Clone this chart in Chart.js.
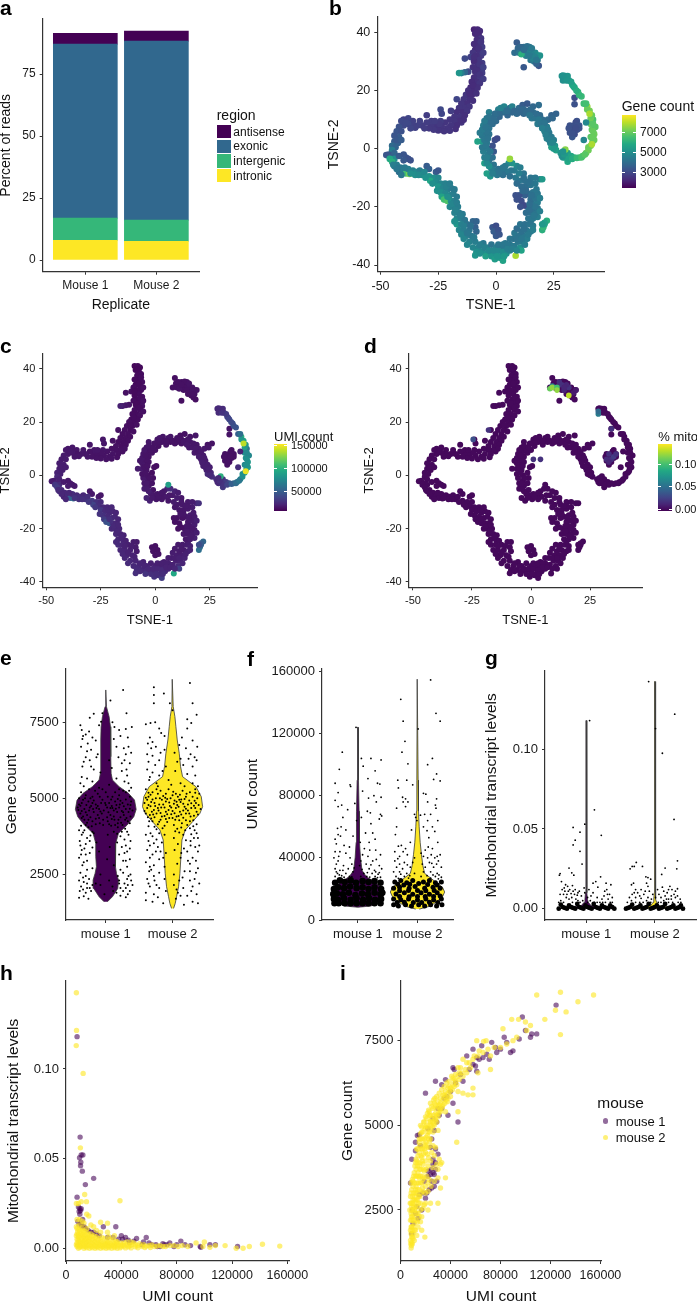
<!DOCTYPE html>
<html>
<head>
<meta charset="utf-8">
<title>Single cell QC panels</title>
<script src="https://cdn.jsdelivr.net/npm/chart.js@4"></script>
<style>
  html, body { margin: 0; padding: 0; background: #fff; }
  #page { position: relative; width: 697px; height: 1302px; overflow: hidden; font-family: "Liberation Sans", Arial, sans-serif; color: #111; }
  #page canvas { position: absolute; }
  .txt { position: absolute; white-space: nowrap; line-height: 1; }
  .letter { font-weight: bold; font-size: 21px; color: #000; }
  .box { position: absolute; }
</style>
</head>
<body>
<div id="page"></div>
<script>
// ---- panel a
const replicates = ['Mouse 1', 'Mouse 2'];
const regions = ['antisense', 'exonic', 'intergenic', 'intronic'];
const intronicPct = [7.9, 7.5];
const intergenicPct = [9.0, 8.6];
const exonicPct = [70.2, 72.2];
const antisensePct = [4.3, 4.0];
const regionColors = ['#440154', '#31688E', '#35B779', '#FDE725'];

// ---- panels b, c, d: [tsne1, tsne2, gene count, UMI count in thousands]
const tsneCells = [
[-9.5,41,2100,9],[-8,41,2200,10],[-7,40.5,2300,10],[-9,39.5,2200,9],[-7.5,39,2300,10],[-6.5,38,2500,11],[-8.3,37.5,2300,10],[-6.8,36,2500,11],[-8,35.5,2400,10],[-6,35,2700,12],[-9,34,2300,10],[-7,33.5,2500,11],[-10,33,2500,11],[-6.5,32,2600,11],[-8.5,32,2400,10],[-11,31.5,2800,12],[-13.5,31,3000,13],[-7.5,30.5,2500,11],[-9.5,30,2300,10],[-6,29.5,2700,12],[-8,28.5,2400,10],[-10,28,2400,11],[-6,27.5,2600,12],[-7.5,27,2400,11],[-9,26.5,2400,10],[-12,26.5,3000,14],[-13.5,26.3,3800,15],[-15,26,4500,17],[-16,26,5200,19],[-6,26,2700,14],[-8,25.5,2500,11],[-9.5,24.5,2400,11],[-7,24.5,2600,12],[-8.5,23,2400,11],[-10.5,23,2300,11],[-9,21.5,2400,11],[-11,21,2300,11],[-9.5,20,2300,11],[-12,20,2400,12],[-10.5,18.5,2300,11],[-13,18.5,2500,12],[-11.5,17,2400,11],[-14,17,2500,12],[-17,17,2900,13],[-12.5,15.5,2400,12],[-15,15.5,2500,12],[-13.5,14,2500,12],[-16,14,2500,12],[-14.5,12.5,2400,12],[-17,12.5,2400,12],[-15.5,11,2500,12],[-18,11,2500,13],[-19.5,13,2700,13],
[-8,40,2200,9],[-6.5,36.8,2500,11],[-9.5,36,2300,10],[-7.5,34.5,2400,10],[-5.5,33,2700,12],[-9.5,31.5,2400,10],[-7,29,2500,11],[-5.5,28,2800,13],[-8.5,27,2400,10],[-7,25.5,2500,11],[-5.5,24,2700,13],[-7,22.5,2500,12],[-8,21,2400,11],[-10,21.8,2300,11],[-8.5,19,2400,12],[-11.5,19,2300,11],[-10,16.5,2400,12],[-11.5,14.5,2500,12],[-12.5,13,2500,12],[-13.5,11.5,2400,12],[-15,9,2500,13],[-14,10,2400,13],
[-16,9.5,2400,13],[-18,9.5,2500,13],[-20,10,2500,13],[-17,8,2400,13],[-19.5,8,2500,14],[-22,9,2500,14],[-24,9.5,2700,15],[-24,13.5,3000,15],[-23.5,12,2900,15],[-21,7,2500,14],[-23.5,7.5,2500,14],[-26,8,2500,14],[-28,8,2600,14],[-30,11.5,2700,15],[-28,9.5,2700,15],[-30,9,2700,14],[-32,8,2700,15],[-34,8,2800,15],[-36,9.5,2800,15],[-38,10.5,2900,15],[-40,10,2800,15],[-36,8,2800,14],[-38,8.5,3000,16],[-40,8,3000,16],[-42,7.5,3200,17],[-41,9.5,3000,16],[-43,6,3300,17],[-42,4,3500,18],[-44,4.5,3300,18],[-44,2.5,3500,18],[-42.5,2,3600,19],[-45,1,3900,20],[-43.5,0.5,3700,19],[-45,-0.5,4500,22],[-44,-1.5,3800,20],[-46.5,-2,3400,18],[-47.5,-2.2,3300,17],[-45.5,-3,3700,20],[-44,-3.5,5000,25],[-42,-2.5,3500,17],[-40,-2,3300,16],[-39,-3,3300,16],[-38,-3.5,3200,16],[-40,-4,3400,17],[-37,-4,3200,16],
[-17.5,6.8,2400,13],[-20,6.2,2500,14],[-22.5,6,2500,14],[-25,6.3,2500,14],[-27,6.5,2600,14],[-24.5,8.5,2600,14],[-26.5,9.5,2700,15],[-29,7,2600,14],[-31,7,2700,15],[-33,9.5,2800,15],[-35,7.2,2800,15],[-37,7,2900,15],[-39,9,3000,16],[-41,6,3200,17],[-43,3,3400,18],[-41,3,3500,18],
[-46,-3.5,5800,30],[-45,-4.5,6000,32],[-43,-5.5,4500,23],[-44,-6,4300,24],[-41.5,-6.5,4300,22],[-42,-8,4000,20],[-40,-7.5,4500,24],[-39,-8.5,6500,50],[-37.5,-8.7,7300,60],[-38,-7,4500,25],[-36,-7.5,4600,24],[-34.5,-8,4800,26],[-33,-7.5,4500,22],[-35,-9,5000,26],[-32,-9,5000,28],[-30,-6,3500,15],[-29,-7,3600,16],[-26,-8,3500,17],[-25,-7.5,3300,15],[-29,-9.5,5200,32],[-27,-10,5000,27],[-28.5,-11,5800,36],[-25,-10,4800,24],[-26,-11.5,4900,26],[-24,-12,4700,23],[-22,-12,4600,22],[-25,-13,5200,30],[-23,-13.5,4700,24],[-21,-14,4600,23],[-19.5,-13.5,4400,22],[-24,-15,5000,27],[-22,-15.5,4800,24],[-20,-16,4700,24],[-18.5,-15.5,4500,23],[-23.5,-16.5,5600,32],[-22.5,-17.5,6500,42],[-21,-18,6700,45],[-19.5,-18,5000,26],[-18,-18,4600,22],[-20,-20,4800,23],[-18.5,-20,4600,23],[-16.5,-20,4500,22],[-18,-22,4600,23],[-16,-22,4500,21],[-17,-24,4700,22],[-15,-24,4500,21],[-13.5,-24.5,4300,20],[-17,-26,5300,24],[-15,-26,4600,21],[-12.5,-26,4200,19],[-10,-25,3800,17],[-8.5,-25,3700,17],[-9,-27,3600,17],[-16,-28,4700,22],[-14,-28,4500,21],[-11.5,-28,4200,19],[-8.5,-28.5,3800,17],[-13,-30,4500,21],[-10.5,-30,4300,20],[-14,-31,4700,22],[-11.5,-32,4600,22],[-9,-32,4500,21],
[-44.5,-5.5,4500,24],[-43,-7,4300,22],[-41,-9,4300,22],[-39.5,-6.5,4400,22],[-37,-8.5,5000,28],[-33.5,-9,4900,26],[-31,-8,4800,25],[-30.5,-10,5100,30],[-27.5,-12,5000,30],[-25.5,-14.5,5000,28],[-21.5,-13,4600,23],[-20,-12,4500,22],[-18,-14,4400,21],[-17,-16.5,4400,21],[-21,-16.5,5000,26],[-19,-19,4700,23],[-17,-18.5,4500,22],[-17.5,-21,4600,22],[-14.5,-22.5,4400,20],[-15.5,-23,4500,21],[-18,-25,5000,23],[-14,-26.5,4500,20],[-11,-26.5,4100,18],[-15,-29.5,4700,22],[-12.5,-29,4300,20],[-12.5,-33,4700,24],[-9.5,-30.5,4400,20],
[-10,-34,4700,23],[-7.5,-34,4700,23],[-5.5,-32.5,4300,20],[-8.5,-35.5,5000,24],[-6,-35.5,4900,23],[-4,-34,4600,21],[-2,-33,4200,19],[-1.5,-27,3300,13],[0,-26.5,3100,13],[-1,-28.5,3500,14],[1,-28,3200,13],[0,-30,3400,14],[1.5,-29.5,3300,14],[-4,-36,5000,24],[-2,-35.5,4800,22],[-9,-36.7,5200,26],[-4.5,-37,5500,28],[-2,-37,5200,26],[0,-36,5100,24],[2,-35,4800,22],[0,-34,4500,20],[2,-33.5,4300,19],[4,-34,4400,20],[-0.5,-38,5400,27],[1.5,-37.5,5300,26],[3,-38.5,5600,32],[2.5,-36.8,5200,25],[4.5,-36,5000,23],[6,-35,4600,21],[4,-32.5,4300,18],[6,-33,4300,19],[8,-33.5,4400,20],[7.5,-31,4200,18],[8.5,-36.8,7800,95],[10.5,-34,5000,24],[11,-35,5600,34],[9.5,-32,4300,19],[11.5,-32,4400,20],[8,-29,4300,18],[9,-27.5,4000,17],[10,-30,4200,18],[12,-30,4300,18],[13.5,-31,4500,20],[11,-28.5,4100,17],[13,-28,4200,17],[15,-28.5,4400,19],[10.5,-26,4200,17],[12.5,-26,4100,17],[14.5,-26,4200,18],[16,-26.5,4400,19],
[-7,-33,4500,21],[-5,-34,4600,21],[-7,-36,5000,24],[-3,-35,4800,22],[-1,-35,4800,22],[1,-35,4800,22],[3,-35.5,4900,23],[1,-33,4300,19],[3,-33,4300,19],[5,-33,4300,19],[0.5,-37,5200,25],[3.5,-37,5300,25],[5,-34.5,4500,20],[7,-34.5,4500,20],[9,-35,4700,21],[9,-31,4200,18],[11,-31,4300,19],[6,-31,4200,18],[12.5,-33,4500,21],[14,-29.5,4400,19],[16,-28,4500,20],[15,-25,4200,18],[12,-27.5,4100,17],
[20,-28,6000,60],[20.5,-27,6200,58],[21,-26,5700,50],[22,-24.8,6000,55],[21,-25.5,5500,48],[20,-26,5300,40],[14,-24,4200,16],[16,-24,4300,17],[18,-23.5,4500,19],[13,-22,4000,16],[15,-22,4100,16],[17,-22,4200,17],[13.5,-20,4000,15],[15.5,-20.5,4100,16],[18,-20.5,4300,17],[16,-19,4200,16],[18,-18.5,4400,18],[15,-17.5,4000,15],[17,-17,4200,17],[14,-15.5,4000,15],[16,-15,4200,17],[18,-15.5,4300,17],[12.5,-16,3600,14],[10,-16,3200,13],[8.5,-16,3200,13],[9,-17.5,3200,13],[11,-18,3100,13],[12,-19.5,3000,13],[10.5,-20,3200,13],[13,-13,4000,15],[15,-12.5,4200,16],[17,-12,4300,18],[19,-10.5,4500,22],[20,-10.5,5300,26],[11,-13,4000,15],[12.5,-11,4100,16],[15,-10,4200,16],[17,-10,4300,18],[10,-11,4200,16],[12,-8.5,4200,16],[8.5,-10,4300,17],[10,-8.5,4500,18],[8,-7.5,4400,17],[6.5,-7.5,4300,16],[9,-6,4700,20],[7,-5,5200,25],[5.5,-5,5000,22],[4,-6,4400,16],[4.5,-8,4300,16],[2.5,-7.5,4200,15],[6,-9.5,4100,15],[3,-9,4100,15],[1,-7,4100,15],[-0.5,-7.5,4300,15],[0.5,-9,4300,15],[6,-3.5,7600,90],
[16.5,-23,4300,17],[14.5,-21,4000,16],[17,-20,4200,16],[19,-21.5,4500,18],[19,-17,4500,19],[14.5,-19,4000,15],[15.5,-16,4100,16],[13,-14.5,3900,15],[17.5,-14,4300,17],[15,-11.5,4200,16],[12,-10,4100,16],[9,-12,4000,15],[10.5,-6.5,4500,18],[11.5,-14.5,3900,15],[14,-11.5,4100,16],
[-1,-5.5,4200,14],[-2,-7,4500,16],[-3,-6,5000,18],[-2.5,-9.5,5200,20],[-4,-8.5,5500,20],[-5,-5,5500,18],[-3,-4,4300,15],[-1.5,-3,4100,14],[-5,-3,4500,16],[-3.5,-2,4400,15],[-1,-1,3400,13],[-5.5,-1,4500,16],[-3.5,0,4400,14],[-6,0.5,4300,14],[-1.5,1,3200,12],[-0.5,3,3100,12],[0.5,3.5,3000,12],[-4,2,4300,14],[-6,2.5,5200,16],[-8,2.5,5600,17],[-4.5,4,4200,14],[-6,4.5,4300,15],[-3,5,4200,14],[-5,6,4200,14],[-7,5.5,4400,15],[-3,7,4200,14],[-5.5,8,4500,15],[-3.5,9,4100,14],[-1.5,8.5,4000,14],[-4,10.5,4300,15],[-2,10.5,3900,14],[0,9.5,3900,14],[-3,12.5,4500,15],[-0.5,12,4000,14],[1.5,11,3800,13],[1,13.5,4500,15],[3,12.5,3900,14],[5,11.5,3800,14],[3.5,14.5,4700,15],[6,14,4100,15],[7,12.5,3800,13],[9,12,3900,14],[7,14.5,4600,15],[10,14,3900,14],[12,12,3800,14],[11.5,15,3500,13],[13.5,15.5,3400,13],[14,13,3900,15],[16,12.5,4000,15],[12,13.5,3800,14],[16,14.5,3800,14],[18.5,15,4000,15],[15.5,10.5,4300,16],[17,10.5,4200,16],[19,11.5,3900,15],[20,10,4000,16],[18,8.5,4400,16],[20.5,8,4100,15],[22.5,10,3900,16],[24,11.5,3700,14],[26,12,3700,14],[24.5,10.5,3800,15],[22,7.5,4500,17],[21,6,4600,18],[23,5.5,4300,17],[24,4,4400,18],[22,3.5,4600,18],[25,3,4500,18],[23.5,2,4600,19],[25.5,1,5200,22],[24,0.5,5500,24],[26,-0.5,5600,26],
[1.5,-8,4200,15],[3,-6.5,4300,15],[-1.5,-8.5,4500,16],[-4,-5,4800,17],[-4,-3,4500,16],[-2.5,-1,4300,14],[-4.5,1,4300,14],[-5,3,4300,14],[-3.5,3.5,4200,14],[-4,6,4200,14],[-6,6.5,4400,15],[-4.5,7.5,4200,14],[-2,9.5,4000,14],[-5,9.5,4400,15],[-3,11,4200,15],[-1,10.5,4000,14],[0,12,4000,14],[2,12.5,3900,14],[4,13,4100,14],[2,14,4600,15],[5,13,4000,14],[8,13,3800,14],[10,12.5,3800,14],[11,13.5,3800,14],[13,12.5,3900,15],[15,13.5,3900,15],[14.5,11.5,4200,16],[17.5,12,4000,15],[18.5,10,4300,16],[19.5,8.5,4200,15],[21,8.8,4200,16],[20,7,4500,17],[22.5,6.5,4400,17],[21.5,4.8,4500,18],[23,3,4500,18],[24.5,2,4700,19],[25,0,5300,23],
[28,-1.5,5200,25],[29,-3,5200,24],[31,-1.5,5400,28],[30,-3,5300,26],[28.5,-2.5,5000,22],[31,-4.5,5800,30],[32.5,-2.5,5700,32],[29.5,-2,5300,26],[30,-0.3,7400,100],[34,-3,6000,42],[36,-3,6500,55],[37.5,-2.5,6700,60],[39,-1.5,7000,70],[40,-0.5,7100,80],[41,1,7200,90],[42.5,3,7000,85],[41,4,6800,75],[42.5,5,7100,85],[41.5,6.5,6900,80],[43,7.5,6800,75],[41,8.5,7000,80],[42,10,6600,65],[41,10.5,7100,90],[40.5,13,7200,95],[39.5,14.5,7600,100],[38,15.5,6400,50],[37,18,6300,45],[35.5,19.5,6200,42],[34,21,5800,38],[33,22,5700,35],[31.5,23.5,5300,30],[30,24.5,5200,27],[28.5,25,5100,22],[30,25,5200,25],[29,23.5,5000,24],[31,25,5200,24],[34,17.5,3100,14],[34,15.3,3200,14],[39,9,4800,20],[38,3,4700,25],
[29,-1,5100,24],[31.5,-3.5,5600,28],[33,-3.5,5900,36],[35,-3.2,6300,50],[37,-3,6600,58],[38.5,-2,6800,65],[40,0.5,7100,80],[41.8,2.5,7000,85],[42,4,7000,80],[42,6,7000,80],[42,8.5,6800,75],[41.5,11.5,7000,85],[39.5,13.5,7000,85],[39,15.5,6500,60],[36,18.5,6200,43],[34.8,20,6000,40],[33.5,21.5,5800,36],[32.5,23,5500,32],[30.5,23.5,5200,28],[29,25.2,5100,23],[41.5,1.5,7800,150],[40.5,12,7800,140],
[32,8,3200,13],[34,8,3200,13],[35,9.5,3200,13],[36,8,3300,13],[33,6.5,3100,12],[35,6.5,3200,13],[32,5.5,3200,13],[34,5,3100,13],[33,4,3300,13],[34.5,9,3100,13],[36,7,3200,13],[33,7.5,3200,13],[35,8,3200,13],[34,6.5,3100,13],[33,5.3,3200,13],[34.5,7.2,3100,13],[31.5,7,3200,13],
[9,36.5,3500,12],[8,33,4000,13],[9.5,34.5,3800,13],[11,34,3800,13],[12,35,4000,13],[13,34,4100,13],[14.5,35,4300,14],[10,33,4200,13],[12,33,4300,13],[14,33,4500,13],[13,32,4500,13],[15.5,33,4700,14],[17,33,4800,14],[16,32,4500,14],[18,32,4900,14],[15,30.5,4300,13],[16.5,30,4300,13],[18,30.5,4200,13],[19,32,5100,14],[12,28,3400,12],[18.5,28.5,3300,12],[17.5,29.2,3700,12],[11,32.5,6000,14],[16,31,4600,13],[10.5,35,3800,13],[13.5,35.2,4100,13],[15.5,34.5,4400,14],[12,34,4000,13],[14.5,32,4400,13],[17,31.5,4600,14],[17.5,30.5,4300,13]
];
const mitoBaseline = 0.003;
// [tsne1, tsne2, % mito] for the few cells that stand out in panel d
const mitoCells = [
[13,34,.02],[14,32,.015],[16,33,.02],[12,35,.02],[18,31,.01],[15,34,.015],[14,33,.015],[19,32,.01],[34,6,.02],[35,7,.025],[33,8,.02],[32,6,.018],[36,8,.02],[33,5,.015],[34,17.5,.02],[-24.5,13.5,.035],[-18,17,.02],[4,6,.02],[1,6,.02],[28.5,23,.06],[28.5,24,.05],[9,33.5,.06],[8,32.5,.11],[9,33,.12],[11,33,.10],[11,32,.12],[16,30,.13]
];

// ---- panel e: [jitter, gene count]
const cellLabels = ['mouse 1', 'mouse 2'];
const geneJitter1 = [
[.26,8560],[.07,8220],[.31,7800],[-.18,7780],[-.24,7650],[-.05,7800],[-.38,7400],[-.36,7250],[-.25,7200],[-.1,7400],[-.07,7520],[.1,7500],[.13,7350],[.2,7250],[.3,7280],[.39,7350],[-.3,7100],[-.2,7000],[-.35,6950],[-.27,6800],[-.15,6900],[.12,6950],[.22,7050],[.33,7000],[-.37,6700],[-.22,6600],[-.12,6450],[.16,6700],[.27,6650],[.34,6700],[-.3,6350],[-.24,6250],[-.14,6350],[.05,6250],[.19,6350],[.28,6250],[.36,6150],[-.35,6050],[-.18,5950],[-.08,5850],[.09,6000],[.24,5900],[.32,5750],[-.28,5650],[-.38,5500],[-.2,5550],[.16,5650],[.28,5550],[.38,5350],[-.33,5400],[-.1,5350],[.05,5450],[.2,5300],[.3,5200],
[-.4,5000],[-.3,5100],[-.2,5050],[-.12,5150],[0,5200],[.1,5050],[.2,5100],[.36,5050],[-.36,4850],[-.26,4900],[-.15,4800],[-.05,4950],[.05,4850],[.14,4900],[.25,4850],[.33,4800],[-.42,4700],[-.32,4650],[-.22,4750],[-.1,4650],[.02,4700],[.12,4600],[.2,4700],[.3,4650],[.4,4600],[-.38,4500],[-.28,4450],[-.18,4550],[-.06,4500],[.07,4450],[.17,4550],[.27,4450],[.37,4400],[-.32,4300],[-.2,4250],[-.1,4350],[.03,4250],[.13,4300],[.23,4200],[.33,4250],[-.37,4100],[-.26,4050],[.08,4100],[.18,4050],[.29,4000],[-.4,3950],
[-.36,3800],[-.28,3700],[-.18,3850],[.03,3800],[.22,3750],[.34,3800],[-.39,3600],[-.3,3500],[-.14,3550],[.06,3400],[.17,3550],[.3,3450],[.37,3600],[-.36,3300],[-.24,3200],[-.1,3250],[.2,3150],[.32,3250],[-.4,3050],[-.28,2950],[.02,3000],[.26,2950],[.36,3000],[-.35,2800],[-.2,2700],[.12,2800],[.22,2650],[.32,2750],[-.38,2550],[-.3,2450],[-.08,2500],[.18,2450],[.37,2500],[-.4,2300],[-.33,2250],[-.25,2350],[-.15,2200],[.05,2300],[.2,2300],[.28,2200],[.38,2300],[-.37,2100],[-.28,2050],[-.2,2150],[.1,2100],[.3,2050],[.4,2150],[-.39,1950],[-.3,1900],[-.22,1950],[.16,1900],[.26,1950],[.36,1950],[-.4,1730],[-.33,1780],[-.26,1700],[-.02,1850],[.22,1800],[.3,1750],
[-.34,7050],[-.28,6550],[-.33,6200],[-.22,6050],[.3,6450],[.38,6500],[.24,6150],[.31,5950],[-.36,5700],[-.25,5300],[.34,5500],[.35,5250],[-.37,5200],[-.16,5250],[-.05,5300],[.14,5200],[.26,5250],[-.34,4950],[-.23,5000],[-.09,5050],[.03,5050],[.18,4980],[.3,4960],[-.4,4800],[-.29,4780],[-.2,4850],[.0,4780],[.09,4750],[.21,4800],[.37,4780],[-.36,4580],[-.25,4600],[-.14,4680],[-.03,4600],[.1,4680],[.24,4580],[.34,4550],[-.34,4400],[-.23,4380],[-.12,4450],[.02,4380],[.12,4400],[.22,4380],[.31,4350],[-.28,4200],[-.15,4150],[-.04,4120],[.18,4180],[.36,4180],[-.32,3950],[-.2,3900],[.12,3900],[.24,3900],[-.24,3600],[.28,3650],[-.32,3350],[.36,3350],[.24,3400],[-.37,3150],[-.3,3150],[.3,2950],[-.28,2650],[.26,2550],[-.34,2400],[.34,2450],[-.28,2200],[.33,2150],[-.34,2000],[.22,2050],[.33,1850],
[-.31,5000],[-.18,4930],[-.07,4850],[.08,4960],[.22,4920],[.38,4900],[-.38,4760],[-.24,4700],[-.12,4750],[-.01,4850],[.07,4680],[.16,4780],[.27,4740],[-.41,4620],[-.3,4540],[-.19,4650],[-.08,4570],[.04,4540],[.15,4660],[.26,4540],[.36,4660],[-.36,4350],[-.26,4300],[-.15,4330],[-.04,4300],[.09,4320],[.19,4300],[.29,4300],[-.3,4120],[-.21,4080],[-.09,4180],[.05,4150],[.14,4120],[.25,4120],[-.34,3880],[-.23,3780],[.17,3840],[.32,3900],[-.38,3450],[-.2,3380],[.28,3200],[-.33,2900],[.32,2350],[-.24,2050],[.2,2200],[.11,1950],[-.08,2150]
];
const geneJitter2 = [
[.26,8790],[-.28,8650],[-.13,8450],[-.28,8400],[-.28,8130],[-.04,8130],[.3,8130],[0,7900],[.36,7750],[.22,7600],[-.4,7440],[-.33,7480],[-.26,7500],[.28,7480],[-.2,7300],[-.17,7150],[-.12,7050],[.22,7300],[-.34,7000],[-.37,6800],[-.3,6850],[.14,7000],[.3,6900],[.37,6700],[-.25,6700],[-.12,6600],[.1,6750],[.2,6650],[-.38,6450],[-.3,6400],[-.18,6500],[.03,6500],[.27,6450],[.36,6250],[-.36,6200],[-.26,6100],[-.1,6050],[.07,6200],[.16,6100],[.3,6050],[-.38,5950],[-.3,5850],[-.2,5750],[.04,5900],[.22,5800],[.34,5750],[-.35,5600],[-.24,5500],[-.06,5600],[.12,5500],[.3,5500],[.38,5400],
[-.4,5300],[-.3,5200],[-.18,5250],[-.06,5300],[.05,5150],[.15,5250],[.26,5200],[.4,5150],[-.36,5050],[-.25,5000],[-.14,5080],[-.03,5000],[.08,5050],[.18,4980],[.3,5050],[-.42,4850],[-.32,4880],[-.2,4800],[-.1,4900],[.02,4820],[.12,4880],[.23,4800],[.35,4850],[-.38,4680],[-.28,4620],[-.17,4700],[-.06,4620],[.05,4680],[.16,4600],[.28,4680],[.42,4650],[-.34,4450],[-.24,4500],[-.12,4420],[-.02,4480],[.09,4420],[.2,4500],[.32,4430],[-.3,4250],[-.18,4300],[-.08,4220],[.04,4300],[.14,4180],[.26,4250],[.36,4150],[-.36,4080],[-.24,3980],[.07,4000],[.19,3950],[.33,3950],
[-.4,3800],[-.3,3750],[-.12,3800],[.02,3700],[.16,3800],[.38,3700],[-.36,3600],[-.28,3520],[-.16,3550],[.08,3500],[.27,3600],[.4,3450],[-.38,3300],[-.25,3250],[-.1,3200],[.03,3300],[.22,3250],[.34,3400],[-.34,3050],[-.2,3000],[.12,3050],[.3,3050],[-.4,2900],[-.28,2800],[-.12,2750],[.07,2850],[.26,2850],[.38,2700],[-.35,2600],[-.2,2550],[.02,2500],[.18,2600],[.35,2550],[-.38,2350],[-.27,2300],[-.12,2350],[.1,2300],[.26,2300],[.4,2200],[-.34,2100],[-.2,2050],[.02,2150],[.16,2050],[.3,2100],[-.4,1900],[-.28,1850],[-.1,1950],[.08,1900],[.22,1800],[.36,1850],[-.4,1650],[-.3,1600],[-.14,1550],[.05,1700],[.17,1500],[.3,1600],[.38,1550],
[-.32,6650],[-.2,6250],[-.34,5700],[-.15,5900],[.24,6300],[.33,6350],[.12,6300],[-.22,5400],[-.02,5450],[.18,5400],[.34,5300],[-.36,5180],[-.24,5300],[-.1,5150],[.01,5220],[.11,5120],[.21,5150],[.34,5180],[-.4,5020],[-.3,4960],[-.19,5000],[-.08,4980],[.03,4930],[.13,4960],[.25,4930],[.37,5000],[-.36,4780],[-.26,4750],[-.14,4800],[-.04,4750],[.07,4780],[.18,4720],[.32,4760],[-.42,4580],[-.31,4560],[-.21,4600],[-.1,4560],[.0,4580],[.11,4560],[.23,4600],[.36,4560],[-.37,4380],[-.27,4380],[-.16,4400],[-.05,4350],[.06,4400],[.16,4360],[.27,4400],[-.35,4250],[-.22,4150],[-.12,4100],[.02,4120],[.22,4120],[.31,4080],[-.33,3850],[-.2,3850],[.1,3880],[.28,3820],[-.34,3450],[-.22,3400],[.17,3350],[.38,3250],[-.3,3150],[-.14,3050],[.23,2950],[.35,2950],[-.34,2750],[.15,2400],[-.28,2450],[.33,2350],[-.36,2200],[.06,2000],[-.22,1750],[.28,1950],
[-.33,5120],[-.22,5150],[-.11,5020],[.0,5100],[.1,4950],[.2,5050],[.33,4920],[-.38,4950],[-.27,4850],[-.16,4950],[-.05,4860],[.06,4890],[.16,4820],[.28,4840],[.39,4780],[-.33,4740],[-.22,4680],[-.12,4700],[-.02,4700],[.09,4720],[.2,4660],[.34,4680],[-.4,4500],[-.29,4470],[-.18,4520],[-.08,4480],[.03,4510],[.13,4470],[.25,4500],[.38,4470],[-.32,4340],[-.2,4230],[-.1,4320],[.0,4350],[.1,4280],[.2,4280],[.31,4280],[-.27,4070],[-.15,4020],[.04,3920],[.13,4040],[.26,4020],[.36,3850],[-.24,3650],[.2,3620],[.32,3700],[-.18,3250],[.13,3200],[.27,3450],[-.32,2650],[.26,2600],[-.24,2150],[.12,1800]
];

const geneLevels1 = [1600,1765,2039,2314,2533,2752,3081,3520,3849,4123,4397,4638,4945,5164,5384,5603,5822,6371,6919,7357,7686,8015,8564];
const geneWidths1 = [.025,.1,.18,.19,.16,.14,.15,.15,.19,.32,.42,.455,.43,.34,.2,.1,.08,.075,.075,.07,.05,.01,0];
const geneLevels2 = [1382,1546,1765,2094,2533,3081,3629,3958,4232,4507,4726,5055,5384,5713,6042,6480,6919,7357,7686,8015,8914];
const geneWidths2 = [.015,.04,.06,.09,.11,.125,.14,.19,.3,.41,.45,.43,.35,.15,.12,.1,.07,.05,.035,.01,.005];
const umiLevels1 = [8.2,9,12,15,17.5,20,23,26,28,32,40,50,70,90,124];
const umiWidths1 = [0,.22,.36,.42,.455,.42,.33,.22,.14,.07,.045,.028,.022,.011,.005];
const umiLevels2 = [7,9,12,15,18,21,24,27,30,35,42,50,60,70,90,155];
const umiWidths2 = [.03,.22,.33,.42,.455,.42,.32,.22,.12,.09,.067,.045,.028,.017,.011,.005];
const mitoLevels1 = [0,.001,.002,.004,.006,.01,.118];
const mitoWidths1 = [.42,.22,.07,.03,.018,.01,.004];
const mitoLevels2 = [0,.001,.002,.004,.006,.01,.1425];
const mitoWidths2 = [.43,.2,.06,.025,.015,.008,.004];

// ---- panel f: [jitter, UMI count]
const umiJitter1 = [
[-.03,124000],[-.26,108000],[.06,104000],[.22,104000],[.39,103000],[.09,99000],[-.31,97000],[.29,96000],[.17,91000],[-.38,88000],[.33,88000],[.37,87500],[-.13,87000],[-.12,86000],[-.33,82000],[.08,83000],[.27,80000],[.39,79000],[.18,78500],[-.38,77000],[.31,76000],[-.27,74000],[-.33,73000],[-.05,75000],[.16,70000],[.21,69000],[.38,68000],[-.17,71000],[.4,67000],[.06,66000],[-.28,60000],[-.34,59000],[-.2,58000],[.36,65000],[-.02,64000],[-.33,55000],[-.29,54000],[.13,56000],[-.38,52000],[.29,52000],[.19,50000],[-.36,49000],[-.23,48000],[-.38,44000],[-.3,44000],[.11,46000],[.2,45000],[.38,42000],[-.4,40000],[-.32,41000],[-.13,40000],[.08,42000],[.25,38000],[.31,39000],[-.36,36000],[-.24,35000],[.03,35000],[.14,36000],[.36,35000],[-.38,33000],[-.3,32000],[-.16,33000],[.19,33000],[.28,32000],[.4,33000],[-.34,30000],[-.2,30000],[-.08,31000],[.1,30000],[.24,30000],[.34,29500],[-.38,28000],[-.27,28500],[-.14,28000],[.15,28000],[.29,28000],[.38,27500],
[-.33,38000],[-.1,36000],[.22,35500],[.05,38000],[-.2,43000],[.17,41000],[.3,45000],[-.14,47000],[.04,50000],[-.08,54000],[.25,56000],[-.25,66000],[.22,62000],[-.36,31000],[-.25,32000],[-.06,33500],[.07,32500],[.16,30500],[.3,31000],[.36,30500],[-.31,29000],[-.23,27500],[-.1,27800],[.05,28000],[.2,27600],[.33,27300]
];
const umiBand1 = [
[-.38,24000],[-.3,25500],[-.22,24500],[-.12,25500],[-.03,24000],[.08,25000],[.18,24500],[.28,25000],[.38,24000],[-.4,20000],[-.33,21000],[-.23,20500],[-.13,21500],[-.02,20500],[.08,21000],[.18,20000],[.28,21000],[.39,20000],[-.41,16500],[-.35,17000],[-.25,16500],[-.15,17500],[-.04,16000],[.07,17000],[.17,16500],[.28,17500],[.38,16500],[.41,17500],[-.4,13500],[-.33,13000],[-.23,14000],[-.12,13000],[-.02,14000],[.09,13000],[.19,14000],[.29,13000],[.39,13500],[-.39,10800],[-.32,10800],[-.22,10800],[-.12,10800],[-.02,10800],[.08,10800],[.18,10800],[.28,10800],[.38,10800]
];
const umiJitter2 = [
[.22,154500],[-.28,142000],[.31,133000],[-.24,128000],[.38,128000],[.01,123000],[-.21,115000],[-.26,108000],[.25,104000],[-.16,100500],[.17,100000],[.32,94000],[.27,90500],[.38,89500],[-.32,85000],[-.33,90000],[-.18,90000],[-.08,87000],[.1,81500],[.14,81000],[-.25,79000],[-.2,78000],[-.24,76000],[-.16,76000],[.32,78000],[.17,76000],[.3,74000],[.31,72000],[-.35,72000],[-.2,73000],[-.05,68000],[.05,67500],[.12,68000],[.22,68000],[-.35,60000],[-.03,66000],[-.01,64000],[.17,64000],[.34,64000],[.1,60000],[.16,57500],[.25,60000],[-.37,55000],[-.1,58000],[.29,57000],[.19,53000],[-.27,48000],[-.32,47500],[-.12,50000],[.34,50000],[-.38,44000],[-.24,44000],[.13,45000],[.25,46000],[.38,42000],[-.3,41000],[-.17,42000],[.06,43000],[.17,40000],[.29,40000],[-.38,38000],[-.22,37000],[-.08,37000],[.2,37000],[.35,38000],[-.35,34000],[-.25,33000],[-.12,34000],[.13,34000],[.27,34000],[.4,34000],[-.4,31000],[-.3,31000],[-.18,30000],[.1,31000],[.22,31000],[.33,30000],[-.36,28000],[-.22,28000],[.16,28500],[.3,28000],[.4,27500],
[-.3,36000],[-.17,35500],[.08,36000],[.24,36500],[.32,36000],[-.05,40000],[.1,41000],[.23,42000],[.33,41000],[-.2,46000],[.18,47000],[-.33,39500],[-.28,29500],[-.13,28500],[-.05,30000],[.06,28000],[.26,29000],[.36,29000],[-.32,26800],[-.15,27000],[.22,27000],[.35,26500]
];
const umiBand2 = [
[-.38,24500],[-.28,25500],[-.18,24000],[-.08,25500],[.1,24500],[.2,25500],[.3,24000],[.4,24500],[-.4,20500],[-.3,21000],[-.14,20500],[-.04,21500],[.12,20500],[.26,21000],[.38,20500],[-.36,16800],[-.22,17500],[-.08,16500],[.06,17500],[.2,16500],[.33,17500],[-.4,13500],[-.28,13000],[-.15,13500],[0,12800],[.14,13500],[.27,12800],[.4,13500],[-.4,9800],[-.32,9000],[-.2,9800],[-.1,9000],[.02,9800],[.12,9000],[.22,9800],[.32,9000],[.41,9800],
[-.33,23000],[-.23,22500],[-.13,23000],[.02,23500],[.17,22800],[.33,22500],[-.3,18800],[-.15,19000],[.0,19000],[.14,18800],[.28,19000],[-.3,15200],[-.14,15000],[.0,15200],[.13,15100],[.27,15200],[.38,15400],[-.34,11300],[-.22,11400],[-.07,11200],[.07,11300],[.2,11400],[.34,11200]
];

// ---- panel g: [jitter, mitochondrial level]
const mitoJitter1 = [
[.05,.118],[.12,.062],[-.02,.053],[-.19,.051],[-.09,.048],[.22,.046],[-.16,.043],[-.09,.036],[-.19,.04],[-.06,.028],[-.38,.022],[-.39,.021],[-.25,.0255],[-.21,.0225],[-.18,.021],[.21,.02],[-.36,.017],[.14,.017],[.1,.016],[.17,.0135],[.29,.016],[.36,.015],[.3,.012],[-.3,.015],[-.27,.014],[-.2,.0145],[-.35,.012],[-.31,.011],[-.24,.012],[-.16,.012],[-.1,.011],[-.03,.013],[.04,.012],[.1,.01],[.27,.011],[.34,.009],[-.38,.009],[-.33,.009],[-.28,.009],[-.22,.0095],[-.17,.009],[-.13,.0085],[-.07,.008],[.02,.007],[.16,.007],[.23,.006],[.32,.006],[.38,.007],[-.37,.005],[-.25,.006],[-.12,.005],[.06,.005],[.28,.004],[-.05,.005],[.12,.004],[.2,.004],
[-.32,.013],[-.26,.011],[-.19,.011],[-.12,.01],[-.29,.007],[-.21,.007],[-.15,.006],[-.02,.01],[.07,.008],[.26,.008],[.31,.009],[.35,.004],[-.4,.004],[-.33,.004],[-.2,.004],[-.09,.004],[.02,.004],[.16,.004],[.24,.004],[.38,.004]
];
const mitoJitter2 = [
[-.09,.1425],[.01,.113],[.29,.122],[.11,.0975],[.28,.056],[.33,.03],[-.27,.029],[.32,.025],[-.33,.0265],[-.3,.0265],[-.18,.0265],[.15,.0255],[-.36,.025],[.1,.0215],[-.13,.02],[-.1,.0195],[-.06,.0185],[-.31,.016],[-.34,.015],[-.12,.016],[-.1,.014],[.04,.012],[.11,.0135],[.22,.014],[.25,.012],[.33,.0125],[-.2,.012],[-.28,.012],[-.33,.009],[-.25,.01],[-.16,.009],[-.08,.011],[-.03,.009],[.18,.01],[.28,.009],[.24,.008],[.15,.008],[-.37,.007],[-.28,.007],[-.2,.0065],[-.1,.007],[.01,.007],[.09,.007],[.2,.006],[.3,.007],[.37,.006],[-.34,.005],[-.22,.004],[-.12,.005],[.05,.004],[.13,.005],[.26,.004],[.34,.004],
[-.3,.01],[-.14,.011],[.13,.011],[.2,.012],[.3,.011],[-.22,.008],[-.05,.006],[.06,.009],[.17,.006],[.24,.006],[.33,.008],[-.4,.004],[-.28,.004],[-.17,.004],[-.06,.004],[.09,.004],[.2,.004],[.38,.004]
];
const mitoBand1 = [[-.4,0],[-.34,.001],[-.28,0],[-.22,.001],[-.16,0],[-.1,.001],[-.04,0],[.02,.001],[.08,0],[.14,.001],[.2,0],[.26,.001],[.32,0],[.38,.001],[.41,0],[-.37,.0025],[-.31,.0005],[-.25,.002],[-.19,.0005],[-.13,.003],[-.07,.0005],[-.01,.002],[.05,.0005],[.11,.003],[.17,.0005],[.23,.002],[.29,.0005],[.35,.002]];
const mitoBand2 = [[-.42,0],[-.36,.001],[-.3,0],[-.24,.001],[-.18,0],[-.12,.001],[-.06,0],[0,.001],[.06,0],[.12,.001],[.18,0],[.24,.001],[.3,0],[.36,.001],[.41,0],[-.39,.0005],[-.33,.0025],[-.27,.0005],[-.21,.002],[-.15,.0005],[-.09,.003],[-.03,.0005],[.03,.002],[.09,.0005],[.15,.003],[.21,.0005],[.27,.002],[.33,.0005],[.38,.002]];

// ---- panel h: [UMI count, mitochondrial level]
const umiMito1 = [
[8000,.118],[10200,.062],[11000,.052],[12200,.052],[9800,.0505],[10700,.048],[10500,.046],[11800,.043],[20000,.039],[14000,.0355],[8000,.0285],[9000,.023],[10000,.022],[11000,.022],[10000,.019],[12000,.016],[8500,.015],[9500,.013],[11000,.014],[14000,.011],[27000,.012],[36000,.012],[18000,.009],[22000,.008],[24000,.007],[30000,.006],[40000,.007],[43000,.006],[51000,.0055],[58000,.006],[62000,.002],[71000,.002],[75000,.003],[83000,.004],[86000,.002],[90000,.0015],[97000,.001],[97500,.0005],[104000,.002],[108000,.002],[124000,.001],[46000,.003],[55000,.002],[66000,.001],[78000,.001],
[68000,.001],[70000,.0025],[73000,.002],[80000,.002],[65000,.002],[60000,.003],[56000,.0035],[49000,.004],[45000,.0045],[41000,.005],[38000,.005],[34000,.006],[9500,.0205],[10500,.021],[11500,.012],[13000,.012],[16000,.01],[20000,.009]
];
const umiMito2 = [
[7500,.1425],[7600,.1215],[7400,.113],[12400,.0975],[10400,.056],[13500,.03],[39000,.0265],[14800,.026],[7500,.025],[9000,.025],[11000,.026],[15000,.019],[16500,.018],[8000,.016],[10000,.016],[12000,.015],[25000,.0145],[30000,.014],[13000,.014],[9500,.013],[18000,.013],[20000,.012],[8000,.011],[15000,.011],[22000,.01],[12000,.01],[25000,.009],[30000,.009],[35000,.007],[18000,.008],[22000,.0065],[8000,.008],[10500,.008],[14000,.0075],[17000,.006],[26000,.006],[32000,.005],[8000,.005],[11000,.005],[14000,.005],[19000,.005],[23000,.0045],[29000,.004],[36000,.004],[42000,.003],[47000,.0035],[8000,.003],[11000,.0035],[14000,.003],[18000,.003],[22000,.003],[27000,.003],[32000,.0025],[38000,.002],[44000,.002],[50000,.002],[56000,.002],[60000,.0015],[8000,.001],[11000,.001],[14000,.001],[18000,.001],[22000,.001],[26000,.001],[30000,.0008],[35000,.001],[40000,.0008],[45000,.0008],[50000,.0008],[55000,.001],[64000,.001],[68000,.0015],[72000,.001],[78000,.0015],[84000,.0015],[88000,.001],[94000,.003],[100000,.0035],[99000,.001],[104000,.0005],[108000,.0015],[115000,.0015],[123000,0],[128000,0],[132500,.001],[142000,.0022],[154500,.0012],[9000,0],[13000,0],[17000,0],[21000,0],[25000,0],[29000,0],[33000,0],[37000,0],
[9500,.0105],[11500,.0115],[13500,.0095],[15500,.0085],[9000,.0075],[12000,.0075],[16000,.0075],[20000,.007],[24000,.0055],[28000,.0055],[31000,.0065],[34000,.0045],[37000,.0035],[9500,.006],[12500,.006],[15500,.006],[18500,.0065],[21000,.0055],[9500,.004],[12500,.004],[16000,.004],[20500,.004],[25000,.004],[30000,.003],[34500,.003],[39500,.003],[44000,.0035],[49000,.003],[53000,.0025],[9500,.002],[12500,.002],[16000,.002],[20000,.002],[24000,.002],[28000,.002],[31000,.0018],[35500,.002],[41000,.0018],[47000,.0018],[52000,.0015],[58000,.0012],[62000,.0018],[66000,.0012],[70000,.001],[75000,.0015],[81000,.001],[7500,.002],[7500,.007],[7500,.012],[10000,.0005],[15000,.0003],[19000,.0003],[23000,.0003],[27000,.0003],[31000,.0003],[35000,.0003],[39000,.0002],[43000,.0002],[47000,.0002],[52000,.0003],[57000,.0004],[61000,.0004],
[8800,.0045],[10200,.0032],[12000,.0028],[13500,.0042],[15000,.0032],[17000,.0038],[19000,.0028],[21000,.0036],[23500,.0028],[25500,.0032],[28500,.0026],[30500,.0034],[33000,.0018],[36500,.0024],[40000,.0018],[8500,.0018],[10500,.0014],[13000,.0012],[15000,.0014],[17000,.0016],[19000,.0012],[21000,.0014],[23000,.0012],[25000,.0016],[27000,.0012],[29000,.0016],[32000,.0012],[34000,.0014],[37000,.0012],[42000,.0012],[46000,.0014],[9000,.0065],[11000,.0068],[13000,.0065],[14500,.0055],[17000,.0052],[10000,.0095],[12500,.009],[8500,.0095]
];

// ---- panel i: [UMI count, gene count]
const umiGene1 = [
[124500,8550],[97500,8200],[100000,7800],[105000,7700],[104000,7600],[109000,7700],[83000,7600],[95000,7550],[85000,7450],[73000,7450],[65000,7350],[58000,7250],[90000,7200],[88000,7150],[77000,7150],[53000,7050],[61000,7000],[71000,6950],[42000,6700],[43000,6650],[61000,6600],[36000,6350],[28000,6300],[33000,6200],[20000,5950],[42000,5650],[46000,5100],[38000,5300],[15000,4720],[13500,4700],[12000,4500],[26000,5200],[30000,5500],[35000,5800],[50000,6300],[60000,6750],[12000,4250],[9000,4000],[22000,4900],[16000,4400],[28000,4300],[30000,4150],[26000,3850],[24500,3700],[27000,3550],[29000,3350],[27000,3200],[25000,3150],[22000,3500],[19000,3350],[21000,3000],[20000,2850],[18000,3000],[15000,2950],[13000,2600],[12000,2400],[9500,2500],[8000,3300],[10000,2100],[9000,1800],[22000,3650],[26000,3600],[28000,3700],[24000,3550],
[80000,7250],[76000,7300],[69000,7100],[66000,7000],[63000,6950],[58000,6800],[55000,6650],[48000,6500],[44000,6250],[40000,6000],[37000,5850],[33000,5500],[31000,5300],[29000,5100],[27000,4850],[25000,4600],[24000,4350],[26000,4000],[28000,3900],[25000,3350],[23000,3100],[17000,2500],[14000,2250]
];
const umiGene2 = [
[109000,8850],[128000,8930],[154500,8850],[142000,8650],[124000,8400],[132500,8350],[115500,8130],[94500,8130],[89000,8130],[100000,8050],[104000,7950],[82000,7850],[101000,7800],[128000,7680],[61000,7500],[66500,7480],[68500,7500],[93000,7600],[90000,7500],[85000,7400],[80000,7300],[75000,7300],[70000,7250],[63000,7200],[72000,7050],[59000,7050],[50000,6950],[53000,6850],[56000,6700],[62000,6550],[72000,6650],[47000,6550],[43000,6350],[58000,6100],[39000,6150],[36000,6000],[34000,5900],[46000,6000],[50000,5950],[54000,5900],[58000,5900],[30000,5700],[26000,5500],[27000,5650],[28000,5350],[32000,5400],[36000,5400],[23000,5300],[24000,5100],[29000,5100],[46000,5400],[19000,5100],[20000,4950],[22000,4800],[26000,4800],[30000,4850],[16000,5000],[17000,4800],[19000,4600],[23000,4500],[45000,4500],[26000,4400],[28000,4350],[15000,4500],[13000,4300],[17000,4300],[20000,4200],[33000,3900],[31000,4000],[29000,3850],[26000,3750],[30000,3700],[12000,3900],[14000,3900],[16000,3900],[18000,3850],[22000,3800],[36000,3450],[32000,3150],[10500,3500],[13000,3500],[16000,3500],[19000,3450],[23000,3400],[27000,3350],[8500,3300],[10000,3200],[12000,3100],[15000,3100],[18000,3050],[22000,3050],[8000,2900],[10000,2800],[12500,2800],[16000,2700],[20000,2700],[24000,2700],[30000,2700],[7500,2500],[10000,2450],[13000,2400],[17000,2300],[22000,2500],[9000,2200],[11000,2100],[14000,2000],[17000,1900],[8000,1900],[10000,1800],[13000,1750],[19500,1700],[8000,1600],[9500,1500],[8500,1380],[8800,1450],[11000,1600],[9000,2000],[8000,2200],[11500,2500],[13500,2800],[10500,3000],[14500,3300],[12500,3700],[15000,4200],[17500,4600],[21000,5000],[24000,5300],[28000,5600],[32000,5800],[38000,6100],[42000,6400],[48000,6700],
[9000,2600],[9500,2900],[11000,3300],[12000,3500],[13500,3800],[14000,4100],[15500,4400],[16500,4600],[18000,4800],[19500,4900],[21000,5200],[23000,5400],[25000,5550],[26500,5750],[29000,5850],[31000,5950],[33000,6050],[35000,6150],[37000,6250],[39000,6300],[41000,6450],[44000,6500],[46000,6700],
[9500,2300],[10500,2600],[11500,2900],[12500,3200],[14000,3600],[15000,3800],[16500,4100],[17500,4300],[19000,4450],[20500,4650],[22000,4950],[23500,5100],[25000,5200],[26500,5300],[28500,5500],[30000,5550],[32000,5650],[34000,5750],[36000,5850],[38000,5950],[40000,6100],[42000,6200],[44000,6300],[46000,6450],[49000,6550],[52000,6650],[55000,6850],[58000,6950],[62000,7050],[66000,7150],
[9000,1700],[10000,2000],[11000,2300],[12000,2600],[13000,3000],[14500,2900],[16000,3300],[17500,3500],[18500,3700],[20000,3950],[21500,4150],[22500,4350],[24000,4600],[25500,4950],[27000,5000],[28000,5150],[30000,5250],[31500,5450],[33500,5550],[35500,5650],[37500,5700],[40000,5850],
[16000,2150],[18000,2550],[20000,3200],[22000,3300],[24500,3200],[17500,3150],[12000,1900],[14000,2400],[8500,2400],[7800,2700],[8500,3000],[9500,3400],[8500,1800],[9500,1700],[25000,4200],[27000,4100],[24000,3950],[22500,4050],[32000,3850],[30000,3450],
[10000,2700],[11000,2800],[12000,3000],[13000,3300],[13500,3100],[14500,3500],[15500,3700],[16500,3700],[17500,3950],[17000,4050],[18500,4150],[19000,4300],[20000,4400],[20500,4500],[21000,4350],[21500,4700],[22500,4600],[23000,4800],[24000,4900],[24500,5000],[25500,5100],[26500,5050],[27500,5200],[29000,5300],[30500,5350],[31000,5600],[32500,5500],[34000,5600],[35000,5900],[36500,5750],[38000,5800],[39500,6000],[41500,6050],[43000,6150],[45000,6200],[47000,6350],[50000,6450],[53000,6550],
[8500,2000],[8800,2300],[9000,2500],[9500,2700],[8500,2700],[9000,3100],[10000,3350],[11000,3600],[11500,3800],[12500,4000],[13000,3950],[14000,4300],[15000,4600],[16000,4750],[17000,4950],[18500,5100],[20000,5250],[21500,5350],[22500,5450],[24000,5650],[27500,5800],[8200,1500],[9200,1900],[10200,2200],[11200,2500],[12200,2750],[13500,2600],[14500,2700],[15500,2900],[16500,3000],[15000,3450],[17000,3300],[18000,3400],[19000,3650],[20500,3700],[21000,3500],[9000,1550],[10000,1650],[11000,1900],[12500,2200],[13500,2150],[15000,2300],[16000,2500],[19000,2650],[20000,3000]
];

// ---- shared styling
const FONT = '"Liberation Sans", Arial, sans-serif';
const AXIS_COLOR = '#333';
const TEXT_COLOR = '#1a1a1a';
const VIRIDIS = ['#440154', '#482576', '#414487', '#35608D', '#2A788E', '#21918C', '#22A884', '#44BF70', '#7AD151', '#BBDF27', '#FDE725'];
const MOUSE1_FILL = '#440154';
const MOUSE2_FILL = '#FDE725';
const MOUSE1_ALPHA = 'rgba(68,1,84,0.58)';
const MOUSE2_ALPHA = 'rgba(253,231,37,0.62)';

const page = document.getElementById('page');
Chart.defaults.font.family = FONT;
Chart.defaults.animation = false;

function viridis(t) {
    t = Math.min(1, Math.max(0, t));
    const pos = t * (VIRIDIS.length - 1);
    const i = Math.min(VIRIDIS.length - 2, Math.floor(pos));
    const f = pos - i;
    const hex = s => [1, 3, 5].map(k => parseInt(s.substr(k, 2), 16));
    const a = hex(VIRIDIS[i]), b = hex(VIRIDIS[i + 1]);
    return 'rgb(' + a.map((v, k) => Math.round(v + (b[k] - v) * f)).join(',') + ')';
}

function addText(text, x, y, size) {
    const el = document.createElement('div');
    el.className = 'txt';
    el.textContent = text;
    el.style.left = x + 'px';
    el.style.top = (y - size / 2) + 'px';
    el.style.fontSize = size + 'px';
    page.appendChild(el);
}

function addLetter(text, x, baseline) {
    const el = document.createElement('div');
    el.className = 'txt letter';
    el.textContent = text;
    el.style.left = x + 'px';
    el.style.top = (baseline - 18) + 'px';
    page.appendChild(el);
}

function addBox(x, y, w, h, background) {
    const el = document.createElement('div');
    el.className = 'box';
    Object.assign(el.style, { left: x + 'px', top: y + 'px', width: w + 'px', height: h + 'px', background });
    page.appendChild(el);
    return el;
}

function addColorbar(x, top, bottom, width, title, titleY, titleSize, labels, labelX, labelSize) {
    addBox(x, top, width, bottom - top, 'linear-gradient(to top,' + VIRIDIS.join(',') + ')');
    addText(title, x, titleY, titleSize);
    labels.forEach(([text, y]) => {
        addText(text, labelX, y, labelSize);
        addBox(x, y - 0.4, 3, 0.8, '#fff');
        addBox(x + width - 3, y - 0.4, 3, 0.8, '#fff');
    });
}

function axisOptions(o) {
    return {
        type: 'linear',
        min: o.min,
        max: o.max,
        offset: false,
        afterBuildTicks: s => { s.ticks = o.ticks.map(v => ({ value: v })); },
        border: { color: AXIS_COLOR, width: 1.2 },
        grid: { drawOnChartArea: false, color: AXIS_COLOR, tickLength: 3, offset: false },
        ticks: {
            font: { size: o.tickSize },
            color: TEXT_COLOR,
            padding: 4,
            maxRotation: 0,
            autoSkip: false,
            callback: (v, i) => (o.labels ? o.labels[i] : (o.digits ? v.toFixed(o.digits) : String(v)))
        },
        title: { display: !!o.title, text: o.title, font: { size: o.titleSize }, color: '#111', padding: 0 }
    };
}

// box is the plot area in page pixels, xTitleY and yTitleX are the centres of the axis titles
function addPanel(box, xAxis, yAxis, type, datasets) {
    const xLine = (xAxis.titleSize || 0) * 1.2, yLine = yAxis.titleSize * 1.2;
    const left = Math.floor(box.yTitleX - yLine / 2);
    const top = Math.floor(box.top) - 12;
    const right = Math.ceil(box.right) + 34;
    const bottom = Math.ceil(box.xTitleY + xLine / 2);
    const canvas = document.createElement('canvas');
    canvas.width = right - left;
    canvas.height = bottom - top;
    canvas.style.left = left + 'px';
    canvas.style.top = top + 'px';
    canvas.style.width = (right - left) + 'px';
    canvas.style.height = (bottom - top) + 'px';
    page.appendChild(canvas);
    const x = axisOptions(xAxis), y = axisOptions(yAxis);
    x.afterFit = s => { s.height = bottom - box.bottom; };
    y.afterFit = s => { s.width = box.left - left; };
    return new Chart(canvas, {
        type,
        data: { datasets },
        options: {
            responsive: false,
            maintainAspectRatio: false,
            layout: { padding: { top: box.top - top, right: right - box.right, left: 0, bottom: 0 } },
            plugins: { legend: { display: false }, tooltip: { enabled: false } },
            scales: { x, y }
        }
    });
}

function dots(rows, color, radius, center) {
    const toPoint = center === undefined
        ? r => ({ x: r[0], y: r[1] })
        : r => ({ x: center + r[0], y: r[1] });
    return { data: rows.map(toPoint), pointRadius: radius, pointBackgroundColor: color, pointBorderWidth: 0, pointHoverRadius: radius };
}

function violin(center, levels, widths, color, scaleY) {
    const k = scaleY || 1;
    const leftSide = levels.map((v, i) => ({ x: center - widths[i], y: v * k }));
    const rightSide = levels.map((v, i) => ({ x: center + widths[i], y: v * k })).reverse();
    return {
        data: leftSide.concat(rightSide),
        showLine: true,
        fill: 'shape',
        tension: 0,
        backgroundColor: color,
        borderColor: '#3a3a3a',
        borderWidth: 0.8,
        pointRadius: 0
    };
}

// ---- a
const stackRows = [
    [regions[3], intronicPct, regionColors[3]],
    [regions[2], intergenicPct, regionColors[2]],
    [regions[1], exonicPct, regionColors[1]],
    [regions[0], antisensePct, regionColors[0]]
];
const chartA = addPanel(
    { left: 42.7, top: 19, right: 199, bottom: 271.7, xTitleY: 305, yTitleX: 6.5 },
    { min: 0.4, max: 2.6, ticks: [1, 2], labels: replicates, tickSize: 12, titleSize: 14, title: 'Replicate' },
    { min: -4.7, max: 97.2, ticks: [0, 25, 50, 75], tickSize: 12, titleSize: 14, title: 'Percent of reads' },
    'bar',
    stackRows.map(([label, values, color]) => ({
        label,
        data: values.map((v, i) => ({ x: i + 1, y: v })),
        backgroundColor: color,
        borderWidth: 0,
        barThickness: 64
    }))
);
chartA.options.scales.x.stacked = true;
chartA.options.scales.y.stacked = true;
chartA.update();
addText('region', 216.7, 115, 14);
regions.forEach((name, i) => {
    const y = [125, 139.7, 154.3, 169][i];
    addBox(216.7, y, 14, 13.4, regionColors[i]);
    addText(name, 233.3, y + 6.7, 12);
});

// ---- b, c, d share the cell coordinates
const tsneXTicks = [-50, -25, 0, 25];
const tsneYTicks = [-40, -20, 0, 20, 40];
const tsneXY = tsneCells.map(c => [c[0], c[1]]);
const geneColors = tsneCells.map(c => viridis((c[2] - 1400) / 7330));
const umiColors = tsneCells.map(c => viridis((c[3] - 6.4) / 148));
const mitoBaseColor = viridis(mitoBaseline / 0.144);

addPanel(
    { left: 377.3, top: 17, right: 604, bottom: 271.7, xTitleY: 305, yTitleX: 335 },
    { min: -51.4, max: 46.75, ticks: tsneXTicks, tickSize: 12.5, titleSize: 14, title: 'TSNE-1' },
    { min: -42.3, max: 45.3, ticks: tsneYTicks, tickSize: 12.5, titleSize: 14, title: 'TSNE-2' },
    'scatter',
    [dots(tsneXY, geneColors, 3.3)]
);
addColorbar(621.7, 115, 188.3, 14.6, 'Gene count', 106, 14, [['7000', 132.3], ['5000', 152.3], ['3000', 172.3]], 640, 12);

addPanel(
    { left: 42.3, top: 353.3, right: 257.3, bottom: 587.3, xTitleY: 619.3, yTitleX: 6.7 },
    { min: -51.8, max: 46.8, ticks: tsneXTicks, tickSize: 11, titleSize: 13, title: 'TSNE-1' },
    { min: -42, max: 45.8, ticks: tsneYTicks, tickSize: 11, titleSize: 13, title: 'TSNE-2' },
    'scatter',
    [dots(tsneXY, umiColors, 3)]
);
addColorbar(274, 444, 511, 13.3, 'UMI count', 436, 13, [['150000', 445.7], ['100000', 468.7], ['50000', 491.3]], 291, 11);

addPanel(
    { left: 408.7, top: 353.3, right: 642, bottom: 587.3, xTitleY: 619.3, yTitleX: 370.7 },
    { min: -51.8, max: 47, ticks: tsneXTicks, tickSize: 11, titleSize: 13, title: 'TSNE-1' },
    { min: -42, max: 45.8, ticks: tsneYTicks, tickSize: 11, titleSize: 13, title: 'TSNE-2' },
    'scatter',
    [
        dots(mitoCells, mitoCells.map(c => viridis(c[2] / 0.144)), 2.8),
        dots(tsneXY, mitoBaseColor, 3)
    ]
);
addColorbar(658.3, 444, 511, 13.4, '% mito', 436, 13, [['0.10', 464], ['0.05', 486.7], ['0.00', 509.3]], 675, 11);

// ---- e, f, g violins with the cells on top
const violinTicks = [1, 2];

addPanel(
    { left: 65.7, top: 668.3, right: 213.3, bottom: 920, xTitleY: 950, yTitleX: 11.7 },
    { min: 0.4, max: 2.61, ticks: violinTicks, labels: cellLabels, tickSize: 13 },
    { min: 1000, max: 9276, ticks: [2500, 5000, 7500], tickSize: 13, titleSize: 15.5, title: 'Gene count' },
    'scatter',
    [
        dots(geneJitter2, '#000', 1, 2),
        dots(geneJitter1, '#000', 1, 1),
        violin(2, geneLevels2, geneWidths2, MOUSE2_FILL),
        violin(1, geneLevels1, geneWidths1, MOUSE1_FILL)
    ]
);

addPanel(
    { left: 322, top: 668.3, right: 453.3, bottom: 920, xTitleY: 950, yTitleX: 252.5 },
    { min: 0.4, max: 2.6, ticks: violinTicks, labels: cellLabels, tickSize: 13 },
    { min: 0, max: 162000, ticks: [0, 40000, 80000, 120000, 160000], tickSize: 13, titleSize: 15.5, title: 'UMI count' },
    'scatter',
    [
        dots(umiJitter2, '#000', 0.9, 2),
        dots(umiJitter1, '#000', 0.9, 1),
        dots(umiBand2, '#000', 2.5, 2),
        dots(umiBand1, '#000', 3.3, 1),
        violin(2, umiLevels2, umiWidths2, MOUSE2_FILL, 1000),
        violin(1, umiLevels1, umiWidths1, MOUSE1_FILL, 1000)
    ]
);

addPanel(
    { left: 545, top: 670.7, right: 696, bottom: 920, xTitleY: 950, yTitleX: 491.7 },
    { min: 0.4, max: 2.6, ticks: violinTicks, labels: cellLabels, tickSize: 13 },
    { min: -0.0071, max: 0.1493, ticks: [0, 0.05, 0.1], digits: 2, tickSize: 13, titleSize: 15.5, title: 'Mitochondrial transcript levels' },
    'scatter',
    [
        dots(mitoBand2, '#000', 2.4, 2),
        dots(mitoBand1, '#000', 2.4, 1),
        dots(mitoJitter2, '#000', 0.9, 2),
        dots(mitoJitter1, '#000', 0.9, 1),
        violin(2, mitoLevels2, mitoWidths2, MOUSE2_FILL),
        violin(1, mitoLevels1, mitoWidths1, MOUSE1_FILL)
    ]
);

// ---- h, i cells of both mice
const umiTicks = [0, 40000, 80000, 120000, 160000];

addPanel(
    { left: 66, top: 980.7, right: 289.3, bottom: 1261, xTitleY: 1296, yTitleX: 13.5 },
    { min: 0, max: 161400, ticks: umiTicks, tickSize: 12.5, titleSize: 15.5, title: 'UMI count' },
    { min: -0.0071, max: 0.1492, ticks: [0, 0.05, 0.1], digits: 2, tickSize: 13, titleSize: 15.5, title: 'Mitochondrial transcript levels' },
    'scatter',
    [dots(umiMito2, MOUSE2_ALPHA, 2.7), dots(umiMito1, MOUSE1_ALPHA, 2.7)]
);

addPanel(
    { left: 400.5, top: 980.7, right: 601.7, bottom: 1261, xTitleY: 1296, yTitleX: 348 },
    { min: 0, max: 161000, ticks: umiTicks, tickSize: 12.5, titleSize: 15.5, title: 'UMI count' },
    { min: 994, max: 9271, ticks: [2500, 5000, 7500], tickSize: 13, titleSize: 15.5, title: 'Gene count' },
    'scatter',
    [dots(umiGene2, MOUSE2_ALPHA, 2.7), dots(umiGene1, MOUSE1_ALPHA, 2.7)]
);
addText('mouse', 597.3, 1103, 15.5);
addBox(602.6, 1118.3, 5.4, 5.4, MOUSE1_ALPHA).style.borderRadius = '50%';
addBox(602.6, 1135, 5.4, 5.4, MOUSE2_ALPHA).style.borderRadius = '50%';
addText(cellLabels[0], 615.7, 1121, 13);
addText(cellLabels[1], 615.7, 1137.7, 13);

// ---- panel letters
addLetter('a', 0, 15);
addLetter('b', 329, 15);
addLetter('c', 0, 353);
addLetter('d', 364, 353);
addLetter('e', 0, 665);
addLetter('f', 247, 666);
addLetter('g', 485, 665);
addLetter('h', 0, 980);
addLetter('i', 340, 980);
</script>
</body>
</html>
